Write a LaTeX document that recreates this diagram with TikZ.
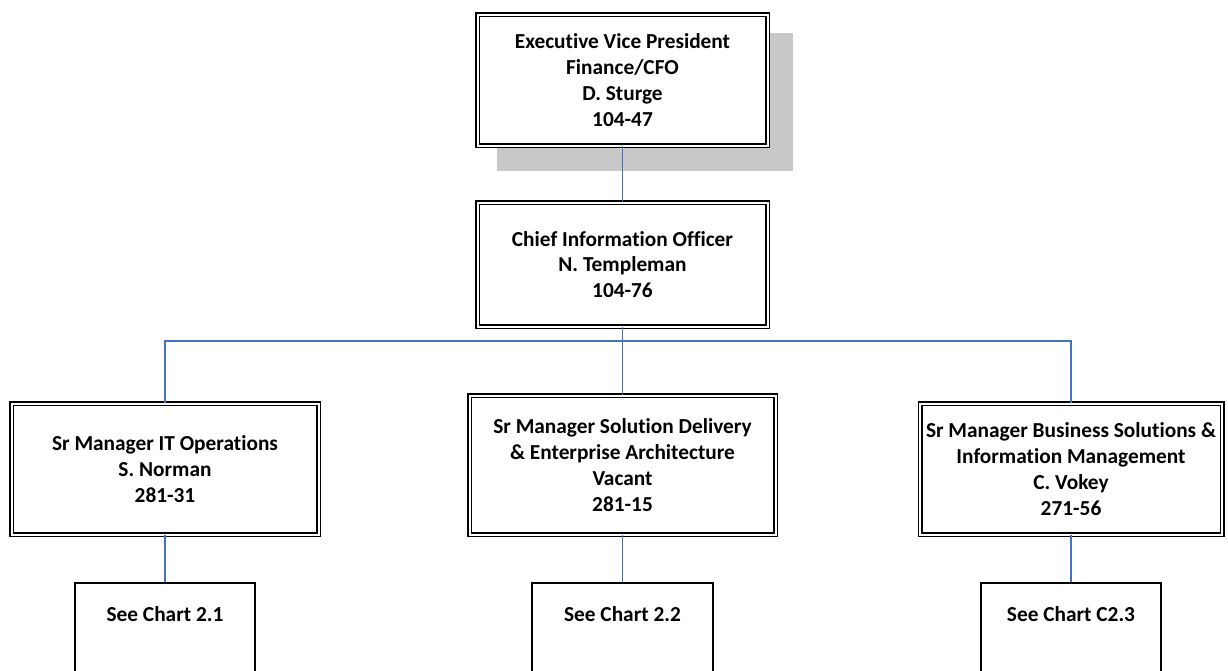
\documentclass[tikz,border=0pt]{standalone}
\usepackage{fontspec}
\setmainfont[Ligatures=NoCommon]{Carlito}
\usepackage{tikz}
\usetikzlibrary{positioning, calc}
\definecolor{linkblue}{RGB}{68,114,196}
\definecolor{shadowgray}{RGB}{200,200,200}
\tikzstyle{post} = [rectangle, draw=black, line width=1.125pt, double, double distance=1.5pt, align=center, inner sep=0pt, font=\bfseries\fontsize{16}{19.3}\selectfont]
\tikzstyle{chart} = [rectangle, draw=black, line width=1.3pt, minimum width=135.4pt, inner ysep=0pt, text height=29.25pt, text depth=75pt, anchor=north, font=\bfseries\fontsize{16}{19.3}\selectfont]
\tikzstyle{link} = [draw=linkblue, line width=1.4pt]

\begin{document}
\begin{tikzpicture}[x=0.75pt, y=-0.75pt]
        \clip (0,0) rectangle (1228,671);
        \fill[white] (0,0) rectangle (1228,671);

        % shadow behind the top post
        \fill[shadowgray] (497,33) rectangle (793,171);

        \node[post, fill=white, minimum width=217.5pt, minimum height=98.25pt] (evp) at (622.5,80) {Executive Vice President\\Finance/CFO\\D. Sturge\\104-47};
        \node[post, minimum width=217.5pt, minimum height=93pt] (cio) at (622.5,264.5) {Chief Information Officer\\N. Templeman\\104-76};

        \node[post, minimum width=230.25pt, minimum height=98.25pt] (ops) at (165,469) {Sr Manager IT Operations\\S. Norman\\281-31};
        \node[post, minimum width=229.5pt, minimum height=104.25pt] (sda) at (622.5,465) {Sr Manager Solution Delivery\\\& Enterprise Architecture\\Vacant\\281-15};
        \node[post, minimum width=226.5pt, minimum height=98.25pt] (bsm) at (1071,469) {Sr Manager Business Solutions \&\\Information Management\\C. Vokey\\271-56};

        \node[chart] (chartA) at (165,582) {See Chart 2.1};
        \node[chart] (chartB) at (622.5,582) {See Chart 2.2};
        \node[chart] (chartC) at (1071,582) {See Chart C2.3};

        \coordinate (bus) at (622.5,341);

        \draw[link] (evp) -- (cio);
        \draw[link] (cio) -- (sda);
        \draw[link] (ops.north) |- (bus) -| (bsm.north);
        \draw[link] (ops) -- (chartA);
        \draw[link] (sda) -- (chartB);
        \draw[link] (bsm) -- (chartC);

    \end{tikzpicture}
\end{document}
